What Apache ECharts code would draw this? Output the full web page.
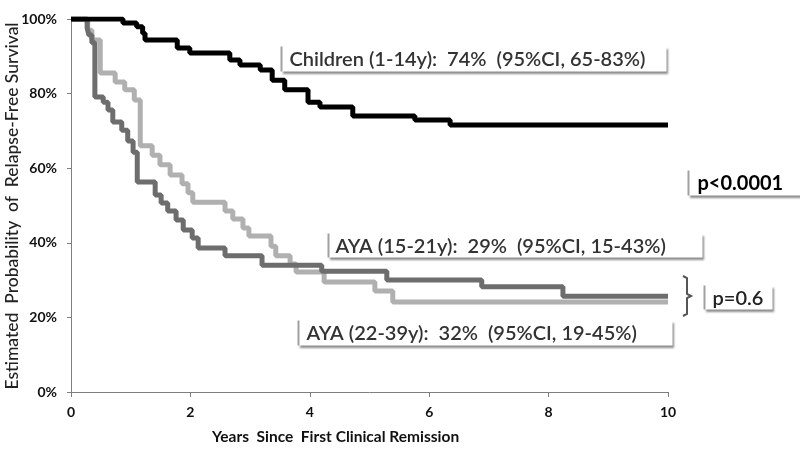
<!DOCTYPE html>
<html><head><meta charset="utf-8">
<script src="https://cdn.jsdelivr.net/npm/echarts@6/dist/echarts.min.js"></script>
<style>html,body{margin:0;padding:0;background:#fff}#c{width:800px;height:449px}</style>
</head><body><div id="c"></div>
<script>
// ---- data ----
const xTicks = [0, 2, 4, 6, 8, 10];
const yTicks = [0, 20, 40, 60, 80, 100];

const childrenTime = [0, 0.87, 1.10, 1.20, 1.24, 1.78, 1.99, 2.66, 2.83, 3.17, 3.37, 3.58, 3.97, 4.17, 4.72, 5.76, 6.35, 10];
const childrenSurv = [100, 98.9, 97.9, 96.2, 94.4, 92.2, 90.9, 89.0, 87.7, 86.3, 83.6, 81.0, 77.7, 76.4, 74.0, 72.9, 71.6, 71.6];

const aya1521Time = [0, 0.28, 0.35, 0.49, 0.74, 0.90, 1.06, 1.16, 1.36, 1.49, 1.66, 1.86, 1.96, 2.04, 2.58, 2.71, 2.88, 2.98, 3.35, 3.43, 3.67, 3.77, 4.24, 5.09, 5.39, 10];
const aya1521Surv = [100, 97.0, 94.4, 85.5, 83.1, 81.0, 78.3, 66.0, 63.5, 60.9, 58.2, 55.8, 53.4, 50.9, 48.5, 46.4, 44.0, 41.8, 39.1, 36.5, 34.3, 32.2, 29.5, 27.1, 24.1, 24.1];

const aya2239Time = [0, 0.27, 0.30, 0.35, 0.40, 0.54, 0.62, 0.70, 0.85, 0.95, 1.04, 1.11, 1.41, 1.51, 1.62, 1.76, 1.88, 2.03, 2.13, 2.58, 3.20, 4.20, 5.29, 6.88, 8.24, 10];
const aya2239Surv = [100, 97.6, 95.7, 93.6, 79.1, 77.7, 75.6, 72.4, 70.2, 67.3, 64.3, 56.3, 52.8, 50.7, 48.5, 46.1, 43.4, 41.3, 38.6, 36.5, 34.0, 32.4, 30.0, 28.2, 25.7, 25.7];

const labelChildren = 'Children (1-14y):  74%  (95%CI, 65-83%)';
const label1521 = 'AYA (15-21y):  29%  (95%CI, 15-43%)';
const label2239 = 'AYA (22-39y):  32%  (95%CI, 19-45%)';
const labelPAll = 'p<0.0001';
const labelPAya = 'p=0.6';
const xTitle = 'Years  Since  First Clinical Remission';
const yTitle = 'Estimated  Probability  of  Relapse-Free Survival';

// ---- chart ----
const zip = (a, b) => a.map((v, i) => [v, b[i]]);
const FONT = 'Lato, "Open Sans", sans-serif';

function annot(x, y, w, h, text, tx, fs, color, weight) {
  return {
    type: 'group', left: x, top: y, children: [
      { type: 'rect', shape: { x: 0, y: 0, width: w, height: h },
        style: { fill: '#fff', shadowColor: 'rgba(0,0,0,0.45)', shadowBlur: 2, shadowOffsetX: 1, shadowOffsetY: 2 } },
      { type: 'line', shape: { x1: 0, y1: 0, x2: 0, y2: h }, style: { stroke: '#a0a0a0', lineWidth: 2 } },
      { type: 'text', x: tx, y: h / 2 + 1, style: { text: text, font: weight + ' ' + fs + 'px ' + FONT, fill: color, textVerticalAlign: 'middle' } }
    ]
  };
}

const chart = echarts.init(document.getElementById('c'));
chart.setOption({
  animation: false,
  backgroundColor: '#fff',
  grid: { left: 71, right: 132, top: 19, bottom: 57 },
  xAxis: {
    type: 'value', min: 0, max: 10, interval: 2,
    axisLine: { show: true, lineStyle: { color: '#7f7f7f', width: 1 } },
    axisTick: { show: true, length: 5, lineStyle: { color: '#7f7f7f' } },
    splitLine: { show: false },
    axisLabel: { color: '#111', fontSize: 14, fontWeight: 'bold', fontFamily: FONT, margin: 13,
      formatter: v => xTicks.includes(v) ? String(v) : '' }
  },
  yAxis: {
    type: 'value', min: 0, max: 100, interval: 20,
    axisLine: { show: true, lineStyle: { color: '#7f7f7f', width: 1 } },
    axisTick: { show: true, length: 4, lineStyle: { color: '#7f7f7f' } },
    splitLine: { show: false },
    axisLabel: { color: '#111', fontSize: 14, fontWeight: 'bold', fontFamily: FONT, margin: 14,
      formatter: v => yTicks.includes(v) ? v + '%' : '' }
  },
  series: [
    { type: 'line', step: 'end', data: zip(aya1521Time, aya1521Surv), symbol: 'none',
      lineStyle: { color: '#b0b0b0', width: 5 }, z: 2 },
    { type: 'line', step: 'end', data: zip(aya2239Time, aya2239Surv), symbol: 'none',
      lineStyle: { color: '#6d6d6d', width: 5 }, z: 3 },
    { type: 'line', step: 'end', data: zip(childrenTime, childrenSurv), symbol: 'none',
      lineStyle: { color: '#000', width: 5 }, z: 4 }
  ],
  graphic: [
    annot(279, 44, 385, 25, labelChildren, 8, 20, '#333', 600),
    annot(326, 231, 374, 24, label1521, 7, 20, '#333', 600),
    annot(296, 318, 374, 25, label2239, 8, 20, '#333', 600),
    annot(686, 168, 112, 25, labelPAll, 9, 20, '#000', 'bold'),
    annot(702, 283, 68, 24, labelPAya, 8, 20, '#222', 600),
    { type: 'polyline', shape: { points: [[683, 276], [687, 278], [687, 294], [691, 296], [687, 298], [687, 314], [683, 316]] },
      style: { stroke: '#555', lineWidth: 2, fill: null } },
    { type: 'text', left: 212, top: 429, style: { text: xTitle, font: 'bold 15.5px ' + FONT, fill: '#111' } },
    { type: 'text', x: 12, y: 206, rotation: Math.PI / 2,
      style: { text: yTitle, font: '500 17.5px ' + FONT, fill: '#222', textAlign: 'center', textVerticalAlign: 'middle' } }
  ]
});
</script></body></html>
